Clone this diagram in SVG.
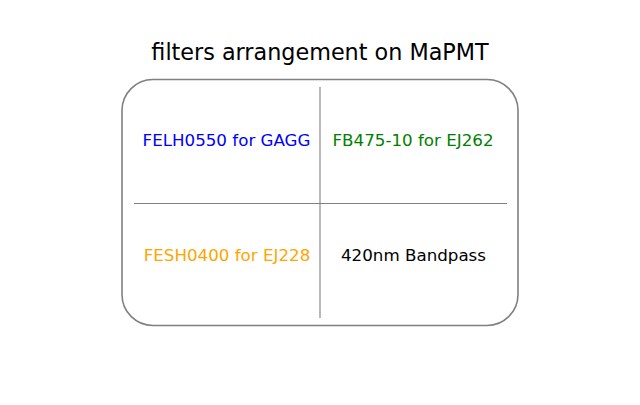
<svg xmlns="http://www.w3.org/2000/svg" width="640" height="405" viewBox="0 0 640 405">
<style>
text{font-family:"DejaVu Sans",sans-serif;text-anchor:middle}
.lbl{font-size:16.7px}
.ttl{font-size:22.3px;fill:#000}
.frame{fill:#fff;stroke:#808080;stroke-width:1.6}
.div{stroke:#808080;stroke-width:1.1}
</style>
<rect width="640" height="405" fill="#fff"/>
<text class="ttl" x="320" y="60">filters arrangement on MaPMT</text>
<g id="frame"><rect class="frame" x="122" y="79.5" width="396" height="246" rx="31" ry="31"/></g>
<g id="connectors">
<line class="div" x1="320" y1="87" x2="320" y2="318"/>
<line class="div" x1="134" y1="203.5" x2="507" y2="203.5"/>
</g>
<g id="felh"><text class="lbl" x="226.5" y="146" fill="#0000ff">FELH0550 for GAGG</text></g>
<g id="fb475"><text class="lbl" x="413" y="146" fill="#008000">FB475-10 for EJ262</text></g>
<g id="fesh"><text class="lbl" x="227" y="261" fill="#ffa500">FESH0400 for EJ228</text></g>
<g id="bandpass"><text class="lbl" x="413.5" y="261" fill="#000">420nm Bandpass</text></g>
</svg>
